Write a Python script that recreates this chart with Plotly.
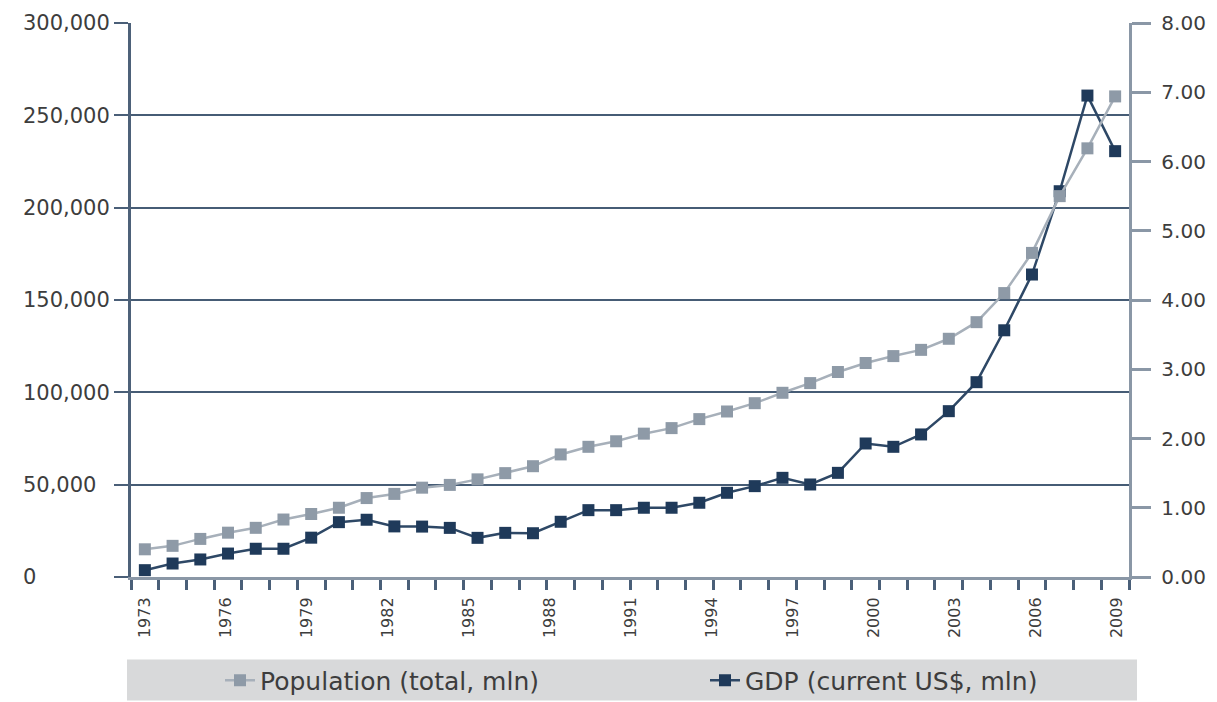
import plotly.graph_objects as go

years = list(range(1973, 2009))
population_mln = [0.40, 0.45, 0.55, 0.64, 0.71, 0.83, 0.91, 1.00, 1.14, 1.20,
                  1.29, 1.33, 1.41, 1.50, 1.60, 1.77, 1.88, 1.96, 2.07, 2.15,
                  2.28, 2.39, 2.51, 2.66, 2.80, 2.96, 3.09, 3.19, 3.28, 3.44,
                  3.68, 4.10, 4.68, 5.50, 6.19, 6.94]
gdp_mln = [3700, 7300, 9500, 12700, 15300, 15300, 21300, 29700, 31000, 27400,
           27300, 26600, 21200, 23900, 23700, 29900, 36200, 36200, 37500, 37500,
           40200, 45600, 49200, 53700, 50100, 56400, 72300, 70500, 77200, 89800,
           105500, 133600, 163800, 208900, 260700, 230600]
year_tick_labels = ["1973", "1976", "1979", "1982", "1985", "1988", "1991",
                    "1994", "1997", "2000", "2003", "2006", "2009"]
left_tick_values = [0, 50000, 100000, 150000, 200000, 250000, 300000]
left_tick_labels = ["0", "50,000", "100,000", "150,000", "200,000", "250,000", "300,000"]

W, H = 1217, 702
L, R, T, B = 131, 1129, 23, 577.5
pw, ph = R - L, B - T


def px_x(p):
    return (p - L) / pw


def px_y(p):
    return (B - p) / ph


def pad_right(label, longest):
    # left-align labels by padding with figure / punctuation spaces
    digits_missing = sum(c.isdigit() for c in longest) - sum(c.isdigit() for c in label)
    commas_missing = longest.count(",") - label.count(",")
    return label + "\u2007" * digits_missing + "\u2008" * commas_missing


longest_label = max(left_tick_labels, key=len)
left_tick_text = [pad_right(s, longest_label) for s in left_tick_labels]
label_slots = list(range(len(year_tick_labels)))

fig = go.Figure()
fig.add_trace(go.Scatter(
    x=years, y=population_mln, name="Population (total, mln)", yaxis="y2",
    mode="lines+markers",
    line=dict(color="#a7b0ba", width=2.5),
    marker=dict(symbol="square", size=12, color="#8e9aa7"),
))
fig.add_trace(go.Scatter(
    x=years, y=gdp_mln, name="GDP (current US$, mln)",
    mode="lines+markers",
    line=dict(color="#2e4866", width=2.5),
    marker=dict(symbol="square", size=12, color="#1f3a5a"),
))
# carrier for the year-label axis (draws nothing)
fig.add_trace(go.Scatter(
    x=label_slots, y=[None] * len(label_slots), xaxis="x2",
    mode="markers", showlegend=False, hoverinfo="skip",
))

left_font = dict(family="DejaVu Sans", size=21, color="#3d3d3d")
right_font = dict(family="DejaVu Sans", size=20, color="#3d3d3d")

fig.update_layout(
    width=W, height=H,
    margin=dict(l=L, r=W - R, t=T, b=H - B, autoexpand=False),
    paper_bgcolor="white", plot_bgcolor="white",
    showlegend=True,
    xaxis=dict(
        type="linear", range=[1972.5, 2008.5],
        showticklabels=False, showgrid=False, zeroline=False,
        ticks="outside", tick0=1972.5, dtick=1, ticklen=10, tickwidth=3,
        tickcolor="#4a5f78",
        showline=True, linecolor="#8a97a6", linewidth=3,
    ),
    xaxis2=dict(
        overlaying="x", anchor="y", side="bottom",
        range=[-0.173, 12.15], tickmode="array",
        tickvals=label_slots, ticktext=year_tick_labels,
        tickangle=-90, showgrid=False, zeroline=False, showline=False,
        ticks="outside", ticklen=13, tickcolor="rgba(0,0,0,0)",
        tickfont=dict(family="DejaVu Sans", size=16, color="#3d3d3d"),
    ),
    yaxis=dict(
        range=[0, 300000], tickmode="array",
        tickvals=left_tick_values, ticktext=left_tick_text,
        showgrid=True, gridcolor="#465c75", gridwidth=2,
        zeroline=False, ticks="outside", ticklen=14, tickwidth=2,
        tickcolor="#4a5f78",
        showline=True, linecolor="#4d6179", linewidth=3,
        tickfont=left_font,
    ),
    yaxis2=dict(
        overlaying="y", side="right", range=[0, 8], dtick=1,
        tickformat=".2f", tickprefix="\u2008",
        showgrid=False, zeroline=False,
        ticks="outside", ticklen=19, tickwidth=3, tickcolor="#8a97a6",
        showline=True, linecolor="#8a97a6", linewidth=3,
        tickfont=right_font,
    ),
    legend=dict(
        orientation="h", x=px_x(220), xanchor="left",
        y=px_y(681), yanchor="middle",
        bgcolor="rgba(0,0,0,0)", entrywidth=440, entrywidthmode="pixels",
        font=dict(family="DejaVu Sans", size=25, color="#3d3d3d"),
        traceorder="normal",
    ),
    shapes=[dict(
        type="rect", xref="paper", yref="paper", layer="below",
        x0=px_x(127), x1=px_x(1137), y0=px_y(701), y1=px_y(660),
        fillcolor="#d8d9da", line=dict(width=0),
    )],
)

fig.write_html("out.html")
